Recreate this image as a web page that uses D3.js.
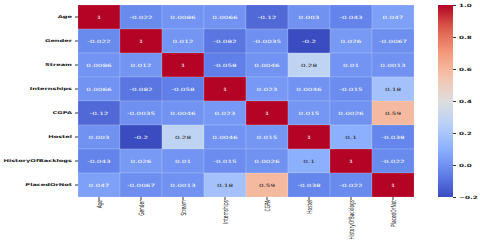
<!DOCTYPE html>
<html>
<head>
<meta charset="utf-8">
<script src="https://cdn.jsdelivr.net/npm/d3@7"></script>
<style>
  body { margin: 0; background: #fff; }
  svg text { font-family: "DejaVu Sans", sans-serif; }
</style>
</head>
<body>
<div id="chart"></div>
<script>
// feature names (rows and columns)
var features = ["Age", "Gender", "Stream", "Internships", "CGPA", "Hostel", "HistoryOfBacklogs", "PlacedOrNot"];

// correlation rows
var rowAge        = [1, -0.022, 0.0086, 0.0066, -0.12, 0.003, -0.043, 0.047];
var rowGender     = [-0.022, 1, 0.012, -0.082, -0.0035, -0.2, 0.026, -0.0067];
var rowStream     = [0.0086, 0.012, 1, -0.058, 0.0046, 0.28, 0.01, 0.0013];
var rowIntern     = [0.0066, -0.082, -0.058, 1, 0.023, 0.0046, -0.015, 0.18];
var rowCGPA       = [-0.12, -0.0035, 0.0046, 0.023, 1, 0.015, 0.0026, 0.59];
var rowHostel     = [0.003, -0.2, 0.28, 0.0046, 0.015, 1, 0.1, -0.038];
var rowBacklogs   = [-0.043, 0.026, 0.01, -0.015, 0.0026, 0.1, 1, -0.022];
var rowPlaced     = [0.047, -0.0067, 0.0013, 0.18, 0.59, -0.038, -0.022, 1];
var corrRows = [rowAge, rowGender, rowStream, rowIntern, rowCGPA, rowHostel, rowBacklogs, rowPlaced];

// colorbar ticks
var cbarTicks = [-0.2, 0, 0.2, 0.4, 0.6, 0.8, 1.0];

var svgWidth = 480;
var svgHeight = 246;
var hm = { left: 78, right: 414, top: 5, bottom: 197 };
var cb = { left: 438, right: 453 };
var squash = 0.6; // the picture's text is flattened vertically

var svg = d3.select("#chart")
  .append("svg")
  .attr("width", svgWidth)
  .attr("height", svgHeight);

// coolwarm colormap
var cwStops = [
  [59,76,192], [98,130,234], [141,176,254], [184,208,249], [221,221,221],
  [245,196,173], [244,154,123], [222,96,77], [180,4,38]
].map(function (c) { return d3.rgb(c[0], c[1], c[2]); });

var color = d3.scaleLinear()
  .domain(d3.range(cwStops.length).map(function (i) { return -0.2 + 1.2 * i / (cwStops.length - 1); }))
  .range(cwStops)
  .interpolate(d3.interpolateRgb)
  .clamp(true);

var x = d3.scaleBand().domain(features).range([hm.left, hm.right]);
var y = d3.scaleBand().domain(features).range([hm.top, hm.bottom]);

var cells = [];
corrRows.forEach(function (row, i) {
  row.forEach(function (v, j) {
    cells.push({ r: features[i], c: features[j], v: v });
  });
});

function lum(c) {
  var rgb = d3.rgb(c);
  var f = function (u) { u /= 255; return u <= 0.03928 ? u / 12.92 : Math.pow((u + 0.055) / 1.055, 2.4); };
  return 0.2126 * f(rgb.r) + 0.7152 * f(rgb.g) + 0.0722 * f(rgb.b);
}

var fmt = d3.format(".2~g");

var cellG = svg.append("g");
cellG.selectAll("rect")
  .data(cells)
  .enter()
  .append("rect")
  .attr("x", d => x(d.c))
  .attr("y", d => y(d.r))
  .attr("width", x.bandwidth())
  .attr("height", y.bandwidth())
  .attr("fill", d => color(d.v))
  .attr("stroke", "rgba(255,255,255,0.25)")
  .attr("stroke-width", 0.6);

cellG.selectAll("text")
  .data(cells)
  .enter()
  .append("text")
  .attr("transform", d => `translate(${x(d.c) + x.bandwidth() / 2}, ${y(d.r) + y.bandwidth() / 2}) scale(1, ${squash})`)
  .attr("text-anchor", "middle")
  .attr("dy", "0.36em")
  .attr("font-size", 7.3)
  .attr("fill", d => lum(color(d.v)) > 0.408 ? "#262626" : "#ffffff")
  .text(d => fmt(d.v).replace("\u2212", "-"));

// y axis
var yAxis = svg.append("g")
  .attr("transform", `translate(${hm.left}, 0)`)
  .call(d3.axisLeft(y).tickSize(3).tickPadding(3));
yAxis.select(".domain").remove();
yAxis.selectAll("line").attr("stroke", "#333");
yAxis.selectAll("text")
  .attr("font-size", 6.6)
  .attr("font-weight", "bold")
  .attr("fill", "#222")
  .attr("transform", `scale(1, ${squash})`);

// x axis
var xAxis = svg.append("g")
  .attr("transform", `translate(0, ${hm.bottom})`)
  .call(d3.axisBottom(x).tickSize(3).tickPadding(3));
xAxis.select(".domain").remove();
xAxis.selectAll("line").attr("stroke", "#333");
xAxis.selectAll("text")
  .attr("font-size", 7.2)
  .attr("fill", "#222")
  .attr("text-anchor", "end")
  .attr("x", -5)
  .attr("y", 0)
  .attr("dy", "0.35em")
  .attr("transform", `scale(1, ${squash}) rotate(-90)`);

// colorbar
var cbScale = d3.scaleLinear().domain([-0.2, 1.0]).range([hm.bottom, hm.top]);

var grad = svg.append("defs").append("linearGradient")
  .attr("id", "cwgrad")
  .attr("x1", "0").attr("y1", "1").attr("x2", "0").attr("y2", "0");
d3.range(0, 1.0001, 0.05).forEach(function (t) {
  grad.append("stop")
    .attr("offset", t)
    .attr("stop-color", color(-0.2 + 1.2 * t));
});

svg.append("rect")
  .attr("x", cb.left)
  .attr("y", hm.top)
  .attr("width", cb.right - cb.left)
  .attr("height", hm.bottom - hm.top)
  .attr("fill", "url(#cwgrad)");

var cbAxis = svg.append("g")
  .attr("transform", `translate(${cb.right}, 0)`)
  .call(d3.axisRight(cbScale).tickValues(cbarTicks).tickFormat(d3.format(".1f")).tickSize(3).tickPadding(3));
cbAxis.select(".domain").remove();
cbAxis.selectAll("line").attr("stroke", "#333");
cbAxis.selectAll("text")
  .attr("font-size", 7.2)
  .attr("font-weight", "bold")
  .attr("fill", "#222")
  .attr("transform", `scale(1, ${squash})`);
</script>
</body>
</html>
